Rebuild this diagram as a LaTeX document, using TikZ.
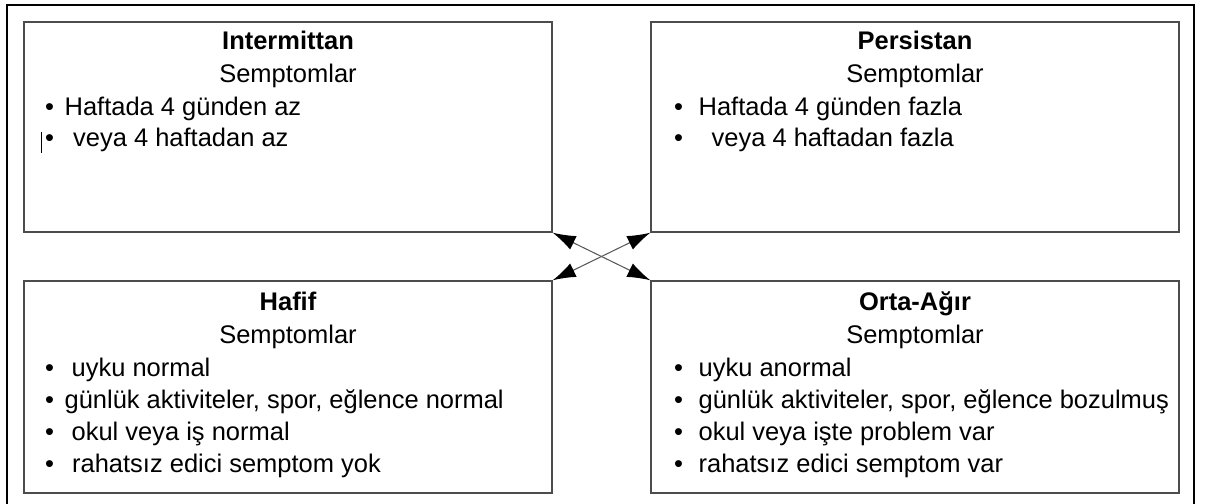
\documentclass[tikz,border=0pt]{standalone}
\usepackage{fontspec}
\setmainfont{Liberation Sans}
\usetikzlibrary{arrows.meta}

\begin{document}
\begin{tikzpicture}[
    font=\fontsize{14.5}{17}\selectfont,
    kutu/.style={draw=black!70, line width=0.8pt, minimum width=10.56cm, minimum height=4.2cm, inner sep=0pt},
    baslik/.style={anchor=base, font=\fontsize{14.5}{17}\selectfont\bfseries},
    satir/.style={anchor=base west},
    ok/.style={draw=black!65, line width=0.6pt, {Latex[length=4.6mm, width=3mm, color=black]}-{Latex[length=4.6mm, width=3mm, color=black]}}
  ]
  \useasboundingbox (0, 0) rectangle (24.1, 10.08);
  \draw[line width=0.7pt] (0.14, 0) -- (0.14, 9.98) -- (23.88, 9.98) -- (23.88, 0);

  % the four boxes
  \node[kutu] (intermittan) at (5.76, 7.54) {};
  \node[kutu] (persistan) at (18.3, 7.54) {};
  \node[kutu, minimum height=4.24cm] (hafif) at (5.76, 2.34) {};
  \node[kutu, minimum height=4.24cm] (ortaagir) at (18.3, 2.34) {};

  \draw[ok] (intermittan.south east) -- (ortaagir.north west);
  \draw[ok] (hafif.north east) -- (persistan.south west);

  % Intermittan
  \node[baslik] (intTitle) at (5.76, 9.08) {Intermittan};
  \node[anchor=base] (intSemp) at (5.76, 8.42) {Semptomlar};
  \node[satir] (intA) at (0.78, 7.76) {\textbullet\hspace{2.1mm}Haftada 4 günden az};
  \node[satir] (intB) at (0.78, 7.14) {\textbullet\hspace{3.8mm}veya 4 haftadan az};
  \draw[line width=0.6pt] (0.83, 7.44) -- (0.83, 7.02);

  % Persistan
  \node[baslik] (perTitle) at (18.3, 9.08) {Persistan};
  \node[anchor=base] (perSemp) at (18.3, 8.42) {Semptomlar};
  \node[satir] (perA) at (13.36, 7.76) {\textbullet\hspace{3.1mm}Haftada 4 günden fazla};
  \node[satir] (perB) at (13.36, 7.14) {\textbullet\hspace{5.7mm}veya 4 haftadan fazla};

  % Hafif
  \node[baslik] (hafTitle) at (5.76, 3.86) {Hafif};
  \node[anchor=base] (hafSemp) at (5.76, 3.2) {Semptomlar};
  \node[satir] (hafA) at (0.78, 2.54) {\textbullet\hspace{3.5mm}uyku normal};
  \node[satir] (hafB) at (0.78, 1.9) {\textbullet\hspace{2.1mm}günlük aktiviteler, spor, eğlence normal};
  \node[satir] (hafC) at (0.78, 1.26) {\textbullet\hspace{3.5mm}okul veya iş normal};
  \node[satir] (hafD) at (0.78, 0.62) {\textbullet\hspace{3.6mm}rahatsız edici semptom yok};

  % Orta-Agir
  \node[baslik] (ortTitle) at (18.3, 3.86) {Orta-Ağır};
  \node[anchor=base] (ortSemp) at (18.3, 3.2) {Semptomlar};
  \node[satir] (ortA) at (13.36, 2.54) {\textbullet\hspace{3.1mm}uyku anormal};
  \node[satir] (ortB) at (13.36, 1.9) {\textbullet\hspace{3.1mm}günlük aktiviteler, spor, eğlence bozulmuş};
  \node[satir] (ortC) at (13.36, 1.26) {\textbullet\hspace{3.1mm}okul veya işte problem var};
  \node[satir] (ortD) at (13.36, 0.62) {\textbullet\hspace{3.1mm}rahatsız edici semptom var};
\end{tikzpicture}
\end{document}
